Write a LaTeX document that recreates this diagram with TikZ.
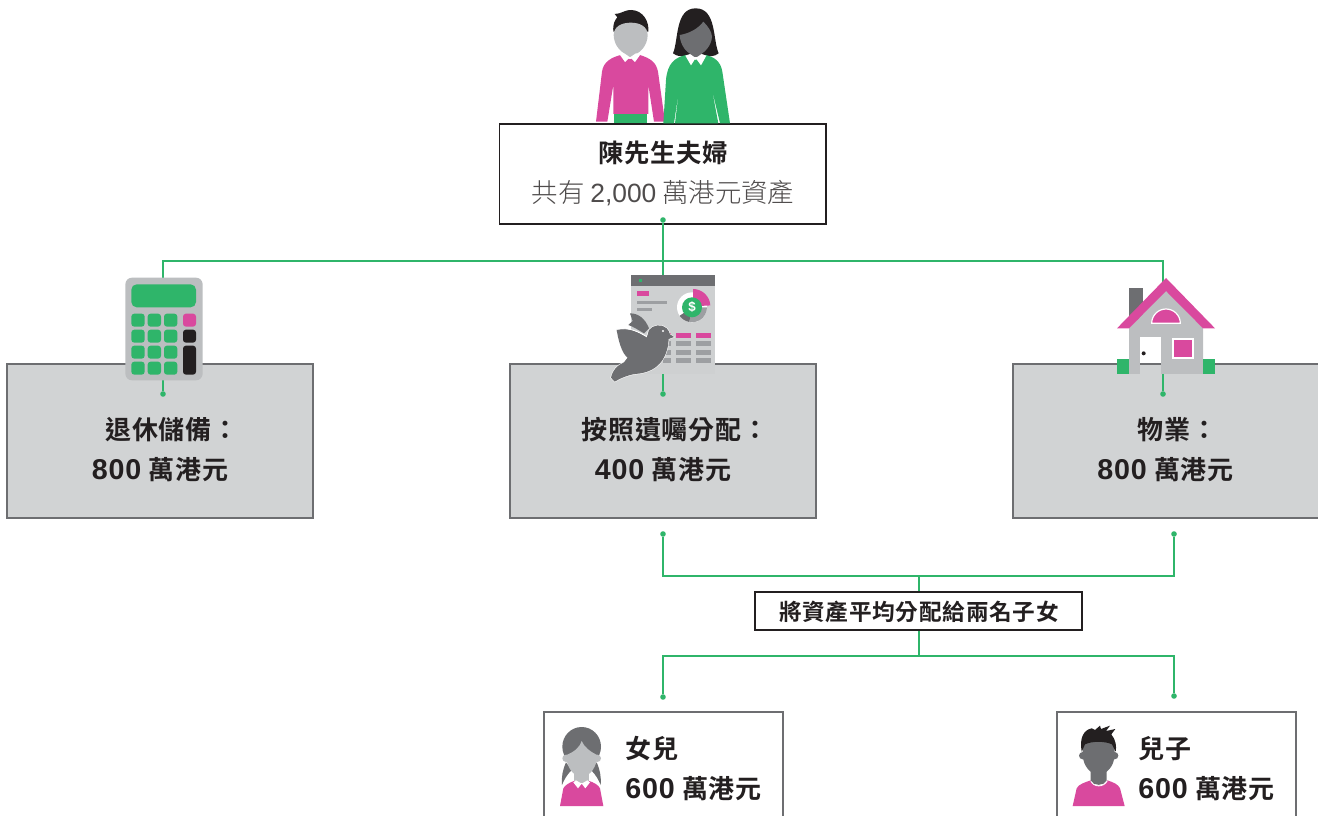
\documentclass[tikz,border=0pt]{standalone}
\usepackage{fontspec}
\setmainfont{Liberation Sans}
\newfontfamily\cjkb{Noto Sans CJK TC}[BoldFont={* Bold}]
\newfontfamily\cjkr{Noto Sans CJK TC}[UprightFont={* Light}]
\definecolor{grn}{HTML}{2FB56A}
\definecolor{pnk}{HTML}{D9499E}
\definecolor{dgr}{HTML}{6D6E71}
\definecolor{lgr}{HTML}{BCBEC0}
\definecolor{boxg}{HTML}{D1D3D4}
\definecolor{ink}{HTML}{231F20}
\definecolor{bar}{HTML}{9D9FA2}
\newcommand{\bt}[1]{{\cjkb\bfseries\addfontfeatures{LetterSpace=3}#1}}
\newcommand{\nm}[1]{{\bfseries\fontsize{21.5pt}{30pt}\selectfont\addfontfeatures{LetterSpace=3}#1}}
\tikzset{
 graybox/.style={draw=dgr,fill=boxg,line width=1.5pt,minimum width=229.5pt,minimum height=115.8pt,inner sep=0pt,anchor=north west},
 whitebox/.style={draw=ink,fill=white,line width=1.4pt,inner sep=0pt,anchor=north west},
 kidbox/.style={draw=dgr,fill=white,line width=1.5pt,inner sep=0pt,anchor=north west,minimum width=179pt,minimum height=100pt},
 link/.style={draw=grn,line width=0.8pt},
 dotn/.style={circle,fill=grn,inner sep=0pt,minimum size=4.2pt},
 big/.style={font=\fontsize{19.5pt}{30pt}\selectfont,align=center,text=ink,inner sep=0pt},
 icon/.style={x=0.25pt,y=-0.25pt}
}
\begin{document}
\begin{tikzpicture}[x=0.75pt,y=-0.75pt]
\useasboundingbox (0,0) rectangle (1318,816);
% boxes
\node[whitebox,minimum width=245pt,minimum height=74.5pt] (couple) at (498.5,123.5) {};
\node[graybox] (left) at (6,363) {};
\node[graybox] (mid) at (509,363) {};
\node[graybox] (right) at (1012,363) {};
\node[whitebox,minimum width=245pt,minimum height=28.5pt] (share) at (754,591) {};
\node[kidbox] (girlbox) at (543,711) {};
\node[kidbox] (boybox) at (1056,711) {};
% dots
\node[dotn] (d0) at (663,220) {};
\node[dotn] (d1) at (163,394) {};
\node[dotn] (d2) at (663,394) {};
\node[dotn] (d3) at (1163,394) {};
\node[dotn] (d4) at (663,534) {};
\node[dotn] (d5) at (1174,534) {};
\node[dotn] (d6) at (663,697) {};
\node[dotn] (d7) at (1174,696) {};
\coordinate (up) at (663,261);
\coordinate (j1) at (919,576);
\coordinate (j2) at (919,656);
% connectors
\draw[link] (d0) -- (up);
\draw[link] (d1) -- (d1 |- up) -- (d3 |- up) -- (d3);
\draw[link] (up) -- (d2);
\draw[link] (d4) -- (d4 |- j1) -- (d5 |- j1) -- (d5);
\draw[link] (j1) -- (j1 |- share.north);
\draw[link] (share.south -| j2) -- (j2);
\draw[link] (d6) -- (d6 |- j2) -- (d7 |- j2) -- (d7);
% couple
\begin{scope}[shift={(580,0)},icon]
 \fill[ink] (100,95) .. controls (98,70) and (105,60) .. (112,52) -- (104,42) .. controls (125,42) and (130,30) .. (155,30) .. controls (190,32) and (208,65) .. (205,95) -- cycle;
 \fill[lgr] (133,150) rectangle (168,172);
 \fill[lgr] (101,105) .. controls (101,80) and (125,68) .. (152,68) .. controls (180,68) and (203,80) .. (203,105) .. controls (203,135) and (180,165) .. (152,165) .. controls (125,165) and (101,135) .. (101,105) -- cycle;
 \fill[grn] (101,340) rectangle (201,370);
 \fill[pnk] (122,165) -- (150,178) -- (180,165) .. controls (210,175) and (228,185) .. (234,215) -- (255,365) -- (222,365) -- (205,255) -- (205,342) -- (100,342) -- (100,255) -- (82,365) -- (48,365) -- (66,215) .. controls (70,185) and (95,172) .. (122,165) -- cycle;
 \fill[white] (120,165) -- (133,160) -- (150,172) -- (135,186) -- cycle;
 \fill[white] (180,165) -- (168,160) -- (150,172) -- (165,186) -- cycle;
 \fill[ink] (279,160) .. controls (296,120) and (285,25) .. (347,25) .. controls (410,25) and (398,120) .. (416,160) .. controls (405,170) and (385,170) .. (347,170) .. controls (310,170) and (290,170) .. (279,160) -- cycle;
 \fill[dgr] (330,148) rectangle (365,172);
 \fill[dgr] (299,105) .. controls (330,100) and (355,85) .. (370,65) .. controls (385,80) and (395,95) .. (396,110) .. controls (395,135) and (372,166) .. (347,166) .. controls (322,166) and (300,135) .. (299,105) -- cycle;
 \fill[grn] (318,165) -- (347,180) -- (378,165) .. controls (405,172) and (422,185) .. (427,215) -- (450,370) -- (420,370) -- (395,265) -- (415,370) -- (285,370) -- (298,262) -- (282,370) -- (250,370) -- (258,240) .. controls (262,190) and (285,172) .. (318,165) -- cycle;
 \fill[white] (316,167) -- (330,162) -- (347,174) -- (333,196) -- cycle;
 \fill[white] (379,167) -- (365,162) -- (347,174) -- (363,196) -- cycle;
\end{scope}
% calculator
\begin{scope}[shift={(100,255)},icon]
 \fill[lgr,rounded corners=5pt] (76,68) rectangle (308,376);
 \fill[grn,rounded corners=4pt] (94,88) rectangle (288,157);
 \foreach \cx in {94,143,192} \foreach \cy in {176,224,272,320}
   \fill[grn,rounded corners=2.2pt] (\cx,\cy) rectangle ++(40,39);
 \fill[pnk,rounded corners=2.2pt] (249,176) rectangle (288,215);
 \fill[ink,rounded corners=2.2pt] (249,224) rectangle (288,263);
 \fill[ink,rounded corners=2.2pt] (249,272) rectangle (288,359);
\end{scope}
% report and dove
\begin{scope}[shift={(600,265)},icon]
 \fill[boxg!85!lgr] (93,30) rectangle (345,326);
 \fill[dgr] (93,30) rectangle (345,62);
 \fill[grn] (117,42) rectangle (126,51);
 \fill[pnk] (111,78) rectangle (147,93);
 \fill[bar] (111,108) rectangle (201,117);
 \fill[bar] (111,129) rectangle (156,138);
 \fill[white] (276,127) circle[radius=45];
 \fill[bar] (276,127) -- (321,127) arc[start angle=0,end angle=100,radius=45] -- cycle;
 \fill[dgr] (276,127) -- (268,171) arc[start angle=100,end angle=145,radius=45] -- cycle;
 \fill[pnk] (279,124) -- (279,72) arc[start angle=-90,end angle=-3,radius=52] -- cycle;
 \fill[white] (276,127) circle[radius=25];
 \node[circle,fill=grn,inner sep=0pt,minimum size=15pt,text=white,font=\bfseries\fontsize{10pt}{10pt}\selectfont] (dollar) at (276,127) {\$};
 \foreach \cx in {228,288} {
  \fill[pnk] (\cx,204) rectangle ++(45,15);
  \foreach \cy in {228,254,279} \fill[bar] (\cx,\cy) rectangle ++(45,15);
 }
 \fill[pnk] (190,204) rectangle (213,219);
 \foreach \cy in {228,254,279} \fill[bar] (190,\cy) rectangle (213,\cy+15);
 \fill[dgr] (90,145) .. controls (115,145) and (135,160) .. (147,190) -- (132,205) .. controls (115,195) and (100,185) .. (85,180) -- (98,168) -- cycle;
 \draw[white,line width=0.8pt,fill=dgr] (50,195) .. controls (85,185) and (115,200) .. (140,215) -- (147,195) .. controls (158,180) and (185,175) .. (200,190) .. controls (205,196) and (208,200) .. (210,208) -- (222,216) -- (206,222) .. controls (204,265) and (185,322) .. (105,327) .. controls (85,330) and (60,340) .. (44,350) -- (33,338) .. controls (38,315) and (52,300) .. (72,292) -- (83,278) .. controls (65,265) and (55,225) .. (50,195) -- cycle;
 \fill[dgr] (50,195) .. controls (85,187) and (115,202) .. (140,219) -- (147,195) .. controls (158,180) and (185,175) .. (200,190) .. controls (205,196) and (208,200) .. (210,208) -- (222,216) -- (206,222) .. controls (204,265) and (185,322) .. (105,327) .. controls (85,330) and (60,340) .. (44,350) -- (33,338) .. controls (38,315) and (52,300) .. (72,292) -- (83,278) .. controls (65,265) and (55,225) .. (50,195) -- cycle;
 \fill[white] (189,198) circle[radius=3.5];
\end{scope}
% house
\begin{scope}[shift={(1100,265)},icon]
 \fill[dgr] (87,69) rectangle (129,165);
 \fill[lgr] (87,190) -- (198,75) -- (309,190) -- (309,327) -- (87,327) -- cycle;
 \fill[white] (120,216) rectangle (183,294);
 \fill[dgr] (120,294) rectangle (183,299);
 \fill[boxg] (120,299) rectangle (183,327);
 \fill[pnk] (51,190) -- (198,39) -- (345,190) -- (309,190) -- (198,78) -- (87,190) -- cycle;
 \fill[grn] (51,282) rectangle (87,327);
 \fill[grn] (309,282) rectangle (345,327);
 \fill[ink] (131,265) circle[radius=6];
 \draw[fill=pnk,draw=white,line width=0.9pt] (155,175) arc[start angle=180,end angle=360,radius=43] -- cycle;
 \draw[fill=pnk,draw=white,line width=1pt] (219,222) rectangle (279,279);
\end{scope}
% girl
\begin{scope}[shift={(540,705)},icon]
 \fill[dgr] (66,240) .. controls (64,215) and (68,195) .. (78,172) -- (95,195) .. controls (80,210) and (72,225) .. (66,240) -- cycle;
 \fill[dgr] (182,240) .. controls (184,215) and (180,195) .. (170,172) -- (153,195) .. controls (168,210) and (176,225) .. (182,240) -- cycle;
 \fill[dgr] (125,125) ellipse[x radius=58,y radius=59];
 \fill[lgr] (78,160) circle[radius=11];
 \fill[lgr] (172,160) circle[radius=11];
 \fill[lgr] (103,190) rectangle (147,234);
 \fill[lgr] (79,150) .. controls (105,140) and (120,125) .. (125,108) .. controls (132,125) and (150,140) .. (171,150) .. controls (172,185) and (150,215) .. (125,215) .. controls (100,215) and (78,185) .. (79,150) -- cycle;
 \fill[pnk] (60,303) -- (70,250) .. controls (75,240) and (90,232) .. (102,228) -- (125,238) -- (148,228) .. controls (160,232) and (176,240) .. (180,250) -- (190,303) -- cycle;
 \fill[white] (100,232) -- (108,226) -- (125,236) -- (114,250) -- cycle;
 \fill[white] (150,232) -- (142,226) -- (125,236) -- (136,250) -- cycle;
\end{scope}
% boy
\begin{scope}[shift={(1050,705)},icon]
 \fill[pnk] (68,303) -- (80,250) .. controls (85,238) and (105,232) .. (122,226) .. controls (130,248) and (162,248) .. (172,226) .. controls (190,232) and (205,238) .. (210,250) -- (224,303) -- cycle;
 \draw[white,line width=0.6pt] (122,227) .. controls (130,248) and (162,248) .. (172,227);
 \fill[dgr] (122,195) -- (170,195) -- (170,226) .. controls (162,244) and (130,244) .. (122,226) -- cycle;
 \fill[dgr] (98,152) circle[radius=11];
 \fill[dgr] (194,152) circle[radius=11];
 \fill[dgr] (98,110) -- (194,110) -- (194,150) .. controls (192,185) and (170,208) .. (146,208) .. controls (122,208) and (100,185) .. (98,150) -- cycle;
 \fill[ink] (95,140) .. controls (88,100) and (100,75) .. (125,70) -- (135,75) -- (150,62) -- (153,72) -- (180,62) -- (168,78) -- (196,72) -- (184,88) .. controls (198,105) and (200,125) .. (197,140) -- (186,118) .. controls (165,108) and (125,108) .. (105,118) -- cycle;
\end{scope}
% text
\node[font=\fontsize{19pt}{22pt}\selectfont,text=ink,inner sep=0pt] (t1) at (663,153) {\bt{陳先生夫婦}};
\node[font=\fontsize{19.8pt}{22pt}\selectfont,text=ink!80,inner sep=0pt] (t2) at (663,193) {{\cjkr 共有 }2,000{\cjkr\ 萬港元資產}};
\node[big] (tl) at (160,450) {\hspace*{18pt}\bt{退休儲備：}\\\nm{800} \bt{萬港元}};
\node[big] (tm) at (663,450) {\hspace*{18pt}\bt{按照遺囑分配：}\\\nm{400} \bt{萬港元}};
\node[big] (tr) at (1165.5,450) {\hspace*{18pt}\bt{物業：}\\\nm{800} \bt{萬港元}};
\node[font=\fontsize{17pt}{20pt}\selectfont,text=ink,inner sep=0pt] (ts) at (919,612) {\bt{將資產平均分配給兩名子女}};
\node[big,align=left,anchor=west] (tg) at (625,769) {\bt{女兒}\\\nm{600} \bt{萬港元}};
\node[big,align=left,anchor=west] (tb) at (1138,769) {\bt{兒子}\\\nm{600} \bt{萬港元}};
\end{tikzpicture}
\end{document}
